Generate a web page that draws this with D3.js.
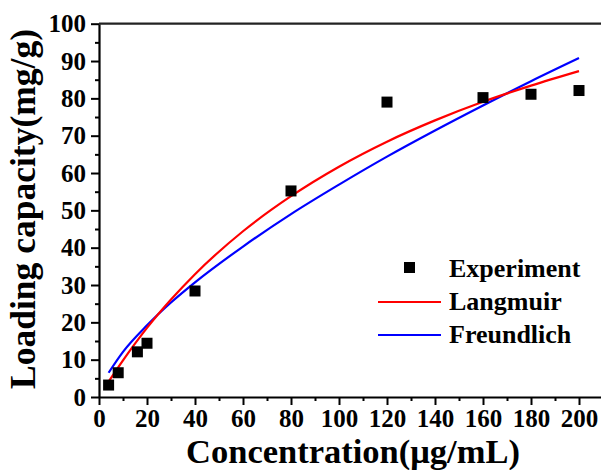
<!DOCTYPE html>
<html>
<head>
<meta charset="utf-8">
<script src="https://cdnjs.cloudflare.com/ajax/libs/d3/7.8.5/d3.min.js"></script>
<style>
body { margin: 0; background: #fff; }
text { font-family: "Liberation Serif", "Times New Roman", serif; font-weight: bold; }
</style>
</head>
<body>
<div class="chart"></div>
<script>
var w = 601;
var h = 470;

// experiment points
var expX = [4, 8, 16, 20, 40, 80, 120, 160, 180, 200];
var expY = [3.2, 6.5, 12.1, 14.4, 28.4, 55.2, 79, 80.2, 81.1, 82.1];

// fitted curves
var fitX = [4, 10, 20, 30, 40, 60, 80, 100, 120, 140, 160, 180, 200];
var langY = [4.1, 9.8, 18.5, 26.1, 32.9, 44.4, 53.8, 61.7, 68.4, 74.1, 79.1, 83.4, 87.3];
var freuY = [6.5, 12.1, 19.2, 25.3, 30.7, 40.3, 49.0, 56.9, 64.4, 71.4, 78.1, 84.6, 90.8];

var xTicks = [0, 20, 40, 60, 80, 100, 120, 140, 160, 180, 200];
var yTicks = [0, 10, 20, 30, 40, 50, 60, 70, 80, 90, 100];

var x = d3.scaleLinear().domain([0, 210]).range([99, 603]);
var y = d3.scaleLinear().domain([0, 100]).range([397, 23.7]);

var svg = d3.select('.chart')
            .append("svg")
            .attr("width", w)
            .attr("height", h)
            .style("display", "block");

// minor ticks
var xMinor = d3.range(10, 210, 20);
var yMinor = d3.range(5, 100, 10);

svg.append("g")
   .attr("transform", "translate(0,397)")
   .call(d3.axisBottom(x).tickValues(xMinor).tickSize(4).tickFormat(""))
   .call(function(g) { g.select(".domain").remove(); })
   .selectAll("line").attr("stroke-width", 2);

svg.append("g")
   .attr("transform", "translate(99,0)")
   .call(d3.axisLeft(y).tickValues(yMinor).tickSize(4).tickFormat(""))
   .call(function(g) { g.select(".domain").remove(); })
   .selectAll("line").attr("stroke-width", 2);

var xAxis = svg.append("g")
   .attr("transform", "translate(0,397)")
   .call(d3.axisBottom(x).tickValues(xTicks).tickSize(8).tickSizeOuter(0).tickPadding(4));
xAxis.select(".domain").attr("stroke-width", 2.2);
xAxis.selectAll(".tick line").attr("stroke-width", 2);
xAxis.selectAll("text").style("font-size", "25px").attr("fill", "#000");

var yAxis = svg.append("g")
   .attr("transform", "translate(99,0)")
   .call(d3.axisLeft(y).tickValues(yTicks).tickSize(8).tickSizeOuter(0).tickPadding(5));
yAxis.select(".domain").attr("stroke-width", 2.2);
yAxis.selectAll(".tick line").attr("stroke-width", 2);
yAxis.selectAll("text").style("font-size", "25px").attr("fill", "#000");

// top frame line
svg.append("line")
   .attr("x1", 99).attr("x2", w)
   .attr("y1", y(100)).attr("y2", y(100))
   .attr("stroke", "#222").attr("stroke-width", 2.2);

var line = d3.line().curve(d3.curveMonotoneX);

svg.append("path")
   .attr("d", line(fitX.map(function(d, i) { return [x(d), y(freuY[i])]; })))
   .attr("fill", "none").attr("stroke", "#0000ff").attr("stroke-width", 2.2);

svg.append("path")
   .attr("d", line(fitX.map(function(d, i) { return [x(d), y(langY[i])]; })))
   .attr("fill", "none").attr("stroke", "#ff0000").attr("stroke-width", 2.2);

svg.selectAll("rect.pt")
   .data(expX)
   .enter()
   .append("rect")
   .attr("class", "pt")
   .attr("x", function(d) { return x(d) - 5.5; })
   .attr("y", function(d, i) { return y(expY[i]) - 5.5; })
   .attr("width", 11).attr("height", 11)
   .attr("fill", "#000");

// legend
var legend = svg.append("g");
legend.append("rect").attr("x", 404).attr("y", 262).attr("width", 11).attr("height", 11).attr("fill", "#000");
legend.append("line").attr("x1", 378).attr("x2", 441).attr("y1", 302).attr("y2", 302)
      .attr("stroke", "#ff0000").attr("stroke-width", 2.2);
legend.append("line").attr("x1", 378).attr("x2", 441).attr("y1", 335).attr("y2", 335)
      .attr("stroke", "#0000ff").attr("stroke-width", 2.2);
legend.selectAll("text")
      .data(["Experiment", "Langmuir", "Freundlich"])
      .enter()
      .append("text")
      .attr("x", 449)
      .attr("y", function(d, i) { return 268 + i * 33; })
      .attr("dy", "0.35em")
      .style("font-size", "26px")
      .text(function(d) { return d; });

// axis titles
svg.append("text")
   .attr("x", 353).attr("y", 463)
   .attr("text-anchor", "middle")
   .style("font-size", "34.5px")
   .text("Concentration(μg/mL)");

svg.append("text")
   .attr("transform", "translate(35,209) rotate(-90)")
   .attr("text-anchor", "middle")
   .style("font-size", "35.5px")
   .text("Loading capacity(mg/g)");
</script>
</body>
</html>
